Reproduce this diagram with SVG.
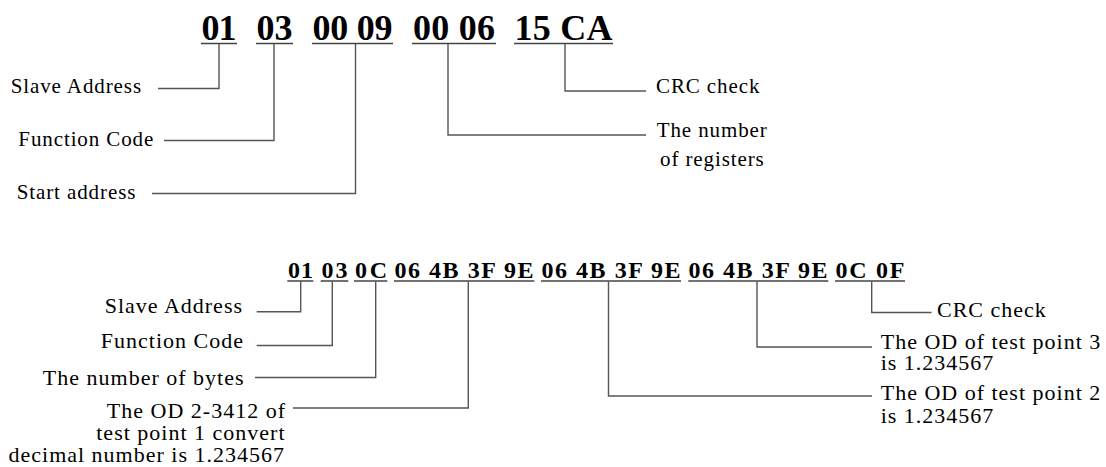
<svg xmlns="http://www.w3.org/2000/svg" width="1106" height="467" viewBox="0 0 1106 467">
<style>
.hex1{font-family:"Liberation Serif","Times New Roman",serif;font-weight:bold;font-size:36px;fill:#000}
.hex2{font-family:"Liberation Serif","Times New Roman",serif;font-weight:bold;font-size:24px;fill:#000}
.lbl{font-family:"Liberation Serif","Times New Roman",serif;font-size:22px;fill:#000;letter-spacing:1px}
.lblt{font-family:"Liberation Serif","Times New Roman",serif;font-size:21px;fill:#000;letter-spacing:0.9px}
.ul{stroke:#444;stroke-width:1.5;fill:none}
.cn{stroke:#555;stroke-width:1.4;fill:none}
</style>
<rect width="1106" height="467" fill="#fff"/>

<g id="frame1">
  <text class="hex1" x="201.5" y="39.5" textLength="35" lengthAdjust="spacing">01</text>
  <text class="hex1" x="256.5" y="39.5" textLength="36" lengthAdjust="spacing">03</text>
  <text class="hex1" x="312.5" y="39.5" textLength="80" lengthAdjust="spacing">00 09</text>
  <text class="hex1" x="413" y="39.5" textLength="82" lengthAdjust="spacing">00 06</text>
  <text class="hex1" x="514.5" y="39.5" textLength="98" lengthAdjust="spacing">15 CA</text>
  <line class="ul" x1="201" y1="43.5" x2="237" y2="43.5"/>
  <line class="ul" x1="256" y1="43.5" x2="293" y2="43.5"/>
  <line class="ul" x1="312" y1="43.5" x2="393" y2="43.5"/>
  <line class="ul" x1="412" y1="43.5" x2="496" y2="43.5"/>
  <line class="ul" x1="514" y1="43.5" x2="613" y2="43.5"/>
</g>

<g id="frame2">
  <text class="hex2" x="288" y="277.5" textLength="25" lengthAdjust="spacing">01</text>
  <text class="hex2" x="321.5" y="277.5" textLength="26" lengthAdjust="spacing">03</text>
  <text class="hex2" x="355" y="277.5" textLength="32" lengthAdjust="spacing">0C</text>
  <text class="hex2" x="394.5" y="277.5" textLength="139" lengthAdjust="spacing">06 4B 3F 9E</text>
  <text class="hex2" x="541.5" y="277.5" textLength="139" lengthAdjust="spacing">06 4B 3F 9E</text>
  <text class="hex2" x="688.5" y="277.5" textLength="139" lengthAdjust="spacing">06 4B 3F 9E</text>
  <text class="hex2" x="835.5" y="277.5" textLength="69" lengthAdjust="spacing">0C 0F</text>
  <line class="ul" x1="287.3" y1="281" x2="313.3" y2="281"/>
  <line class="ul" x1="320.7" y1="281" x2="348.3" y2="281"/>
  <line class="ul" x1="354" y1="281" x2="387.3" y2="281"/>
  <line class="ul" x1="394" y1="281" x2="534.3" y2="281"/>
  <line class="ul" x1="541" y1="281" x2="681" y2="281"/>
  <line class="ul" x1="688.3" y1="281" x2="828.3" y2="281"/>
  <line class="ul" x1="835" y1="281" x2="905" y2="281"/>
</g>

<g id="connectors">
  <polyline class="cn" points="219,44 219,88.5 158,88.5"/>
  <polyline class="cn" points="274,44 274,140.5 164,140.5"/>
  <polyline class="cn" points="355.5,44 355.5,193.5 152,193.5"/>
  <polyline class="cn" points="448,44 448,135 646,135"/>
  <polyline class="cn" points="565,44 565,91 646,91"/>

  <polyline class="cn" points="300.7,281.5 300.7,311.7 256.7,311.7"/>
  <polyline class="cn" points="332.3,281.5 332.3,345.5 256.7,345.5"/>
  <polyline class="cn" points="375.7,281.5 375.7,377.5 255,377.5"/>
  <polyline class="cn" points="468.3,281.5 468.3,408 293,408"/>
  <polyline class="cn" points="608.5,281.5 608.5,396 872,396"/>
  <polyline class="cn" points="757,281.5 757,347 872,347"/>
  <polyline class="cn" points="871.7,281.5 871.7,312.5 931.5,312.5"/>
</g>

<g id="top-slave"><text class="lblt" x="10.7" y="93.3">Slave Address</text></g>
<g id="top-func"><text class="lblt" x="18.3" y="146">Function Code</text></g>
<g id="top-start"><text class="lblt" x="16.7" y="199.3">Start address</text></g>
<g id="top-crc"><text class="lblt" x="656" y="93.3">CRC check</text></g>
<g id="top-regs">
  <text class="lblt" x="656.7" y="137.3">The number<tspan x="660" y="166">of registers</tspan></text>
</g>

<g id="bot-slave"><text class="lbl" x="243" y="313.3" text-anchor="end">Slave Address</text></g>
<g id="bot-func"><text class="lbl" x="244" y="348" text-anchor="end">Function Code</text></g>
<g id="bot-bytes"><text class="lbl" x="244.5" y="385" text-anchor="end">The number of bytes</text></g>
<g id="bot-od1">
  <text class="lbl" text-anchor="end"><tspan x="286" y="418">The OD 2-3412 of</tspan><tspan x="285.5" y="439.5">test point 1 convert</tspan><tspan x="285" y="461.5">decimal number is 1.234567</tspan></text>
</g>
<g id="bot-crc"><text class="lbl" x="937" y="316.7">CRC check</text></g>
<g id="bot-od3">
  <text class="lbl"><tspan x="880.7" y="349.3">The OD of test point 3</tspan><tspan x="880.7" y="370">is 1.234567</tspan></text>
</g>
<g id="bot-od2">
  <text class="lbl"><tspan x="880.7" y="400">The OD of test point 2</tspan><tspan x="880.7" y="422.7">is 1.234567</tspan></text>
</g>
</svg>
